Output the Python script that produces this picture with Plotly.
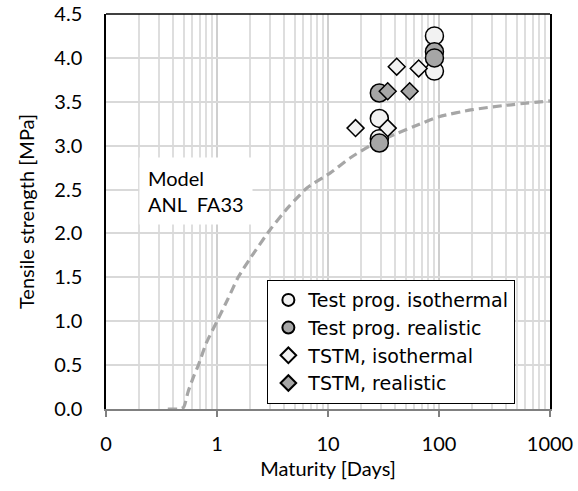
import plotly.graph_objects as go

# ---- data ----
model_t = [0.36, 0.45, 0.5, 0.55, 0.62, 0.68, 0.8, 1.0, 1.25, 1.55, 2.0, 3.0, 4.4, 6.5, 10.5,
           15.8, 24, 40, 60, 100, 200, 400, 1000]
model_v = [0.0, 0.0, 0.02, 0.2, 0.38, 0.5, 0.75, 1.0, 1.25, 1.5, 1.72, 2.04, 2.3, 2.52, 2.69,
           2.86, 3.0, 3.13, 3.22, 3.33, 3.41, 3.46, 3.51]

tp_iso_t = [29, 29, 91, 91]
tp_iso_v = [3.31, 3.08, 4.25, 3.85]
tp_real_t = [29, 29, 91, 91]
tp_real_v = [3.60, 3.03, 4.07, 4.00]
tstm_iso_t = [17.7, 34.5, 41.6, 65.6]
tstm_iso_v = [3.20, 3.20, 3.90, 3.88]
tstm_real_t = [34.5, 54.4]
tstm_real_v = [3.62, 3.62]

x_tickvals = [0.1, 1, 10, 100, 1000]
x_ticktext = ["0", "1", "10", "100", "1000"]
y_tickvals = [0.0, 0.5, 1.0, 1.5, 2.0, 2.5, 3.0, 3.5, 4.0, 4.5]
y_ticktext = ["0.0", "0.5", "1.0", "1.5", "2.0", "2.5", "3.0", "3.5", "4.0", "4.5"]
minor_vals = [m * 10 ** e for e in range(-1, 3) for m in range(2, 10)]

FONT = "Lato"
FS = 20
LIGHT = "#F2F2F2"
GRAY = "#A6A6A6"

fig = go.Figure()
fig.add_trace(go.Scatter(x=model_t, y=model_v, mode="lines", showlegend=False,
                         line=dict(color="#A6A6A6", width=3.2, dash="9px,5px", shape="spline",
                                   smoothing=0.6)))

mk_line = dict(color="black", width=1.5)
fig.add_trace(go.Scatter(x=tp_iso_t, y=tp_iso_v, mode="markers", name="Test prog. isothermal",
                         marker=dict(symbol="circle", size=18, color=LIGHT, line=mk_line)))
fig.add_trace(go.Scatter(x=tp_real_t, y=tp_real_v, mode="markers", name="Test prog. realistic",
                         marker=dict(symbol="circle", size=18, color=GRAY, line=mk_line)))
fig.add_trace(go.Scatter(x=tstm_iso_t, y=tstm_iso_v, mode="markers", name="TSTM, isothermal",
                         marker=dict(symbol="diamond", size=13, color=LIGHT, line=mk_line)))
fig.add_trace(go.Scatter(x=tstm_real_t, y=tstm_real_v, mode="markers", name="TSTM, realistic",
                         marker=dict(symbol="diamond", size=13, color=GRAY, line=mk_line)))

fig.update_layout(
    width=578, height=491,
    margin=dict(l=106, r=28, t=14, b=82, autoexpand=False),
    paper_bgcolor="white", plot_bgcolor="white",
    font=dict(family=FONT, size=FS, color="black"),
    xaxis=dict(type="log", range=[-1, 3], tickvals=x_tickvals, ticktext=x_ticktext,
               automargin=False,
               showgrid=True, gridcolor="#CFCFCF", gridwidth=1.5,
               minor=dict(tickvals=minor_vals, showgrid=True, gridcolor="#DEDEDE", gridwidth=1.5,
                          ticks=""),
               showline=True, linecolor="#808080", linewidth=1.5,
               ticks="outside", ticklen=6, tickcolor="#808080", tickwidth=1.5,
               ticklabelstandoff=10, tickfont=dict(color="black"),
               title=dict(text="Maturity [Days]", font=dict(size=FS, color="black"), standoff=8),
               zeroline=False),
    yaxis=dict(range=[0, 4.5], tickvals=y_tickvals, ticktext=y_ticktext,
               automargin=False,
               showgrid=True, gridcolor="#D9D9D9", gridwidth=1.5,
               showline=True, linecolor="black", linewidth=1.5, mirror=True,
               ticks="", ticklen=0, ticklabelstandoff=18, tickfont=dict(color="black"),
               title=dict(text="Tensile strength [MPa]", font=dict(size=FS, color="black"),
                          standoff=14),
               zeroline=False),
    legend=dict(x=0.363, y=0.327, xanchor="left", yanchor="top",
                bordercolor="black", borderwidth=1.2, bgcolor="white",
                font=dict(family="DejaVu Sans", size=19, color="black"), itemsizing="constant",
                tracegroupgap=0),
    shapes=[dict(type="line", xref="x domain", yref="y domain", x0=0, x1=1, y0=1, y1=1,
                 line=dict(color="black", width=1.5))],
    annotations=[dict(xref="x domain", yref="y domain", x=0.075, y=0.552,
                      xanchor="left", yanchor="middle", align="left",
                      text="Model<br>ANL  FA33", showarrow=False,
                      font=dict(family=FONT, size=FS, color="black"), bgcolor="white",
                      borderpad=8)],
)

fig.write_html("out.html")
